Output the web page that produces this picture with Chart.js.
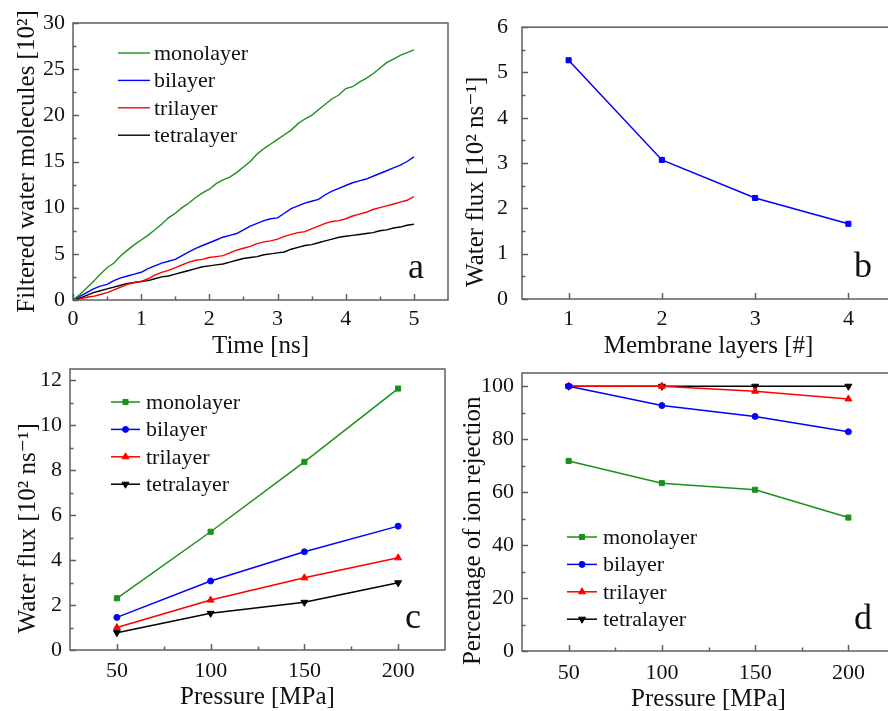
<!DOCTYPE html>
<html>
<head>
<meta charset="utf-8">
<script src="https://cdn.jsdelivr.net/npm/chart.js@4.4.1/dist/chart.umd.min.js"></script>
<style>
  html, body { margin: 0; padding: 0; background: #fff; width: 888px; height: 711px; overflow: hidden; }
  canvas { position: absolute; }
</style>
</head>
<body>
<canvas id="chartA" width="450" height="366" style="left:0;top:0"></canvas>
<canvas id="chartB" width="460" height="366" style="left:440px;top:0"></canvas>
<canvas id="chartC" width="450" height="380" style="left:0;top:345px"></canvas>
<canvas id="chartD" width="460" height="380" style="left:440px;top:345px"></canvas>
<script>
  // ---- data ----
  const seriesNames = ["monolayer", "bilayer", "trilayer", "tetralayer"];

  // panel a: cumulative filtered water molecules [10^2] vs time [ns]
  const timeNs = [0, 0.1, 0.2, 0.3, 0.4, 0.5, 0.6, 0.7, 0.8, 0.9, 1.0, 1.1, 1.2, 1.3, 1.4, 1.5, 1.6, 1.7, 1.8, 1.9,
    2.0, 2.1, 2.2, 2.3, 2.4, 2.5, 2.6, 2.7, 2.8, 2.9, 3.0, 3.1, 3.2, 3.3, 3.4, 3.5, 3.6, 3.7, 3.8, 3.9,
    4.0, 4.1, 4.2, 4.3, 4.4, 4.5, 4.6, 4.7, 4.8, 4.9, 5.0];
  const filteredMono = [0, 0.6, 1.3, 2.0, 2.8, 3.5, 4.0, 4.8, 5.4, 6.0, 6.5, 7.0, 7.6, 8.2, 8.9, 9.4, 10.0, 10.5, 11.1, 11.6,
    12.0, 12.6, 13.0, 13.3, 13.8, 14.4, 15.0, 15.8, 16.4, 16.9, 17.4, 17.9, 18.4, 19.1, 19.6, 20.0, 20.6, 21.2, 21.8, 22.2,
    22.9, 23.1, 23.6, 24.0, 24.5, 25.1, 25.7, 26.1, 26.5, 26.8, 27.1];
  const filteredBi = [0, 0.4, 0.8, 1.2, 1.5, 1.7, 2.1, 2.4, 2.6, 2.8, 3.0, 3.4, 3.7, 4.0, 4.2, 4.4, 4.8, 5.2, 5.6, 5.9,
    6.2, 6.5, 6.8, 7.0, 7.2, 7.6, 8.0, 8.3, 8.6, 8.8, 8.9, 9.4, 9.9, 10.2, 10.5, 10.7, 10.9, 11.4, 11.8, 12.1,
    12.4, 12.7, 12.9, 13.1, 13.4, 13.7, 14.0, 14.3, 14.6, 15.0, 15.5];
  const filteredTri = [0, 0.1, 0.3, 0.4, 0.6, 0.8, 1.1, 1.4, 1.7, 1.9, 2.0, 2.3, 2.7, 3.0, 3.2, 3.5, 3.8, 4.1, 4.3, 4.4,
    4.6, 4.7, 4.8, 5.1, 5.4, 5.6, 5.8, 6.1, 6.3, 6.4, 6.6, 6.9, 7.1, 7.3, 7.4, 7.7, 8.0, 8.3, 8.5, 8.6,
    8.8, 9.1, 9.3, 9.5, 9.8, 10.0, 10.2, 10.4, 10.6, 10.8, 11.2];
  const filteredTetra = [0, 0.2, 0.5, 0.8, 1.0, 1.2, 1.4, 1.6, 1.8, 1.9, 2.0, 2.1, 2.3, 2.5, 2.6, 2.8, 3.0, 3.2, 3.4, 3.6,
    3.7, 3.8, 3.9, 4.1, 4.3, 4.5, 4.6, 4.7, 4.9, 5.0, 5.1, 5.2, 5.5, 5.7, 5.9, 6.0, 6.2, 6.4, 6.6, 6.8,
    6.9, 7.0, 7.1, 7.2, 7.3, 7.5, 7.6, 7.8, 7.9, 8.1, 8.2];

  // panel b: water flux vs number of layers
  const layers = [1, 2, 3, 4];
  const fluxByLayers = [5.27, 3.07, 2.23, 1.66];

  // panel c: water flux vs pressure
  const pressure = [50, 100, 150, 200];
  const fluxMono = [2.3, 5.26, 8.37, 11.63];
  const fluxBi = [1.45, 3.07, 4.37, 5.51];
  const fluxTri = [1.0, 2.22, 3.21, 4.1];
  const fluxTetra = [0.77, 1.63, 2.12, 2.99];

  // panel d: ion rejection [%] vs pressure
  const rejMono = [71.8, 63.4, 60.9, 50.4];
  const rejBi = [100, 92.7, 88.6, 82.8];
  const rejTri = [100, 100, 98.1, 95.2];
  const rejTetra = [100, 100, 100, 100];

  // tick labels
  const timeTicks = [0, 1, 2, 3, 4, 5];
  const moleculeTicks = [0, 5, 10, 15, 20, 25, 30];
  const layerTicks = [1, 2, 3, 4];
  const fluxLayerTicks = [0, 1, 2, 3, 4, 5, 6];
  const pressureTicks = [50, 100, 150, 200];
  const fluxTicks = [0, 2, 4, 6, 8, 10, 12];
  const rejectionTicks = [0, 20, 40, 60, 80, 100];

  // ---- styling ----
  const SERIF = "'Liberation Serif', 'DejaVu Serif', serif";
  const colors = ["#1a911a", "#0000ff", "#ff0000", "#000000"];
  const markers = [
    { pointStyle: "rect", radius: 3.6, rotation: 0 },
    { pointStyle: "circle", radius: 3, rotation: 0 },
    { pointStyle: "triangle", radius: 4, rotation: 0 },
    { pointStyle: "triangle", radius: 4, rotation: 180 },
  ];
  const AXIS = "#5f5f5f";
  // trailing spaces push the rotated titles a little lower, as in the figure
  const PAD = "      ";

  Chart.defaults.font.family = SERIF;
  Chart.defaults.color = "#111";

  // box, inward ticks, in-plot legend and panel letter
  const frame = {
    id: "frame",
    afterDraw(chart, args, opts) {
      const { ctx, chartArea: a } = chart;
      ctx.save();
      ctx.strokeStyle = AXIS;
      ctx.lineWidth = 1.5;
      ctx.strokeRect(a.left, a.top, a.right - a.left, a.bottom - a.top);

      ["x", "y"].forEach((id) => {
        const s = chart.scales[id];
        const major = s.ticks.map((t) => t.value);
        const minorStep = opts.minor && opts.minor[id];
        const marks = major.map((v) => [v, 6]);
        if (minorStep) {
          for (let v = Math.ceil(s.min / minorStep) * minorStep; v < s.max; v += minorStep) {
            const r = Math.round(v * 1000) / 1000;
            if (r <= s.min || major.includes(r)) continue;
            marks.push([r, 3.5]);
          }
        }
        ctx.beginPath();
        marks.forEach(([v, len]) => {
          const p = Math.round(s.getPixelForValue(v)) + 0.5;
          if (id === "x") {
            ctx.moveTo(p, a.bottom);
            ctx.lineTo(p, a.bottom - len);
          } else {
            ctx.moveTo(a.left, p);
            ctx.lineTo(a.left + len, p);
          }
        });
        ctx.stroke();
      });

      if (opts.legend) {
        const L = opts.legend;
        ctx.font = `22px ${SERIF}`;
        ctx.textBaseline = "middle";
        ctx.textAlign = "left";
        chart.data.datasets.forEach((ds, i) => {
          const y = L.y + i * L.dy;
          ctx.strokeStyle = ds.borderColor;
          ctx.lineWidth = ds.borderWidth;
          ctx.beginPath();
          ctx.moveTo(L.x, y);
          ctx.lineTo(L.x + L.len, y);
          ctx.stroke();
          if (ds.pointRadius > 0) {
            ctx.fillStyle = ds.borderColor;
            ctx.lineWidth = 1;
            Chart.helpers.drawPoint(ctx, {
              pointStyle: ds.pointStyle,
              radius: ds.pointRadius,
              rotation: ds.pointRotation || 0,
              borderWidth: 1,
            }, L.x + L.len / 2, y);
          }
          ctx.fillStyle = "#111";
          ctx.fillText(ds.label, L.x + L.len + L.gap, y + 1);
        });
      }

      if (opts.letter) {
        ctx.fillStyle = "#111";
        ctx.font = `36px ${SERIF}`;
        ctx.textAlign = "center";
        ctx.textBaseline = "alphabetic";
        ctx.fillText(opts.letter, a.right - 32, a.bottom - 22);
      }
      ctx.restore();
    },
  };

  function axis(opts) {
    return {
      type: "linear",
      min: opts.min,
      max: opts.max,
      grid: { display: false, drawTicks: false },
      border: { display: false },
      afterBuildTicks: (s) => { s.ticks = opts.ticks.map((v) => ({ value: v })); },
      afterFit: (s) => {
        if (opts.size) {
          if (s.isHorizontal()) s.height = opts.size;
          else s.width = opts.size;
        }
      },
      ticks: { font: { size: 22 }, color: "#111", padding: opts.tickPad },
      title: {
        display: true,
        text: opts.title,
        font: { size: 25 },
        color: "#111",
        padding: opts.titlePad,
      },
    };
  }

  function pointSeries(xs, ys, i, lineWidth) {
    return {
      label: seriesNames[i],
      data: xs.map((x, k) => ({ x, y: ys[k] })),
      borderColor: colors[i],
      backgroundColor: colors[i],
      borderWidth: lineWidth,
      pointStyle: markers[i].pointStyle,
      pointRadius: markers[i].radius,
      pointRotation: markers[i].rotation,
      pointBorderWidth: 1,
      tension: 0,
    };
  }

  function makeChart(id, datasets, scales, padding, frameOpts) {
    return new Chart(document.getElementById(id), {
      type: "line",
      data: { datasets },
      options: {
        responsive: false,
        animation: false,
        events: [],
        layout: { padding },
        plugins: { legend: { display: false }, tooltip: { enabled: false }, frame: frameOpts },
        scales,
      },
      plugins: [frame],
    });
  }

  // panel a
  makeChart(
    "chartA",
    [filteredMono, filteredBi, filteredTri, filteredTetra].map((ys, i) => ({
      label: seriesNames[i],
      data: timeNs.map((t, k) => ({ x: t, y: ys[k] })),
      borderColor: colors[i],
      borderWidth: 1.4,
      pointRadius: 0,
      tension: 0,
    })),
    {
      x: axis({ min: 0, max: 5.5, ticks: timeTicks, size: 66, tickPad: 6, title: "Time [ns]", titlePad: { bottom: 5 } }),
      y: axis({ min: 0, max: 30, ticks: moleculeTicks, size: 73, tickPad: 8, title: "Filtered water molecules [10²]", titlePad: { top: 12 } }),
    },
    { top: 23, right: 2, left: 0, bottom: 0 },
    { minor: { x: 0.5, y: 2.5 }, legend: { x: 118, y: 53, dy: 27.4, len: 32, gap: 4 }, letter: "a" },
  );

  // panel b
  makeChart(
    "chartB",
    [{ ...pointSeries(layers, fluxByLayers, 0, 1.5), borderColor: colors[1], backgroundColor: colors[1], label: "flux" }],
    {
      x: axis({ min: 0.5, max: 4.5, ticks: layerTicks, size: 67, tickPad: 7, title: "Membrane layers [#]", titlePad: { bottom: 5 } }),
      y: axis({ min: 0, max: 6, ticks: fluxLayerTicks, size: 82, tickPad: 14, title: "Water flux [10² ns⁻¹]" + PAD, titlePad: { top: 21 } }),
    },
    { top: 23, right: 2, left: 0, bottom: 0 },
    { minor: { y: 0.5 }, letter: "b" },
  );

  // panel c
  makeChart(
    "chartC",
    [fluxMono, fluxBi, fluxTri, fluxTetra].map((ys, i) => pointSeries(pressure, ys, i, 1.5)),
    {
      x: axis({ min: 25, max: 225, ticks: pressureTicks, size: 75, tickPad: 8, title: "Pressure [MPa]", titlePad: { bottom: 13 } }),
      y: axis({ min: 0, max: 12.5, ticks: fluxTicks, size: 70, tickPad: 8, title: "Water flux [10² ns⁻¹]" + PAD, titlePad: { top: 13 } }),
    },
    { top: 24, right: 2, left: 0, bottom: 0 },
    { minor: { x: 25, y: 1 }, legend: { x: 111, y: 57, dy: 27.4, len: 29, gap: 6 }, letter: "c" },
  );

  // panel d
  makeChart(
    "chartD",
    [rejMono, rejBi, rejTri, rejTetra].map((ys, i) => pointSeries(pressure, ys, i, 1.5)),
    {
      x: axis({ min: 25, max: 225, ticks: pressureTicks, size: 74, tickPad: 9, title: "Pressure [MPa]", titlePad: { bottom: 11 } }),
      y: axis({ min: 0, max: 105, ticks: rejectionTicks, size: 82, tickPad: 8, title: "Percentage of ion rejection" + PAD, titlePad: { top: 18 } }),
    },
    { top: 28, right: 3, left: 0, bottom: 0 },
    { minor: { x: 25, y: 10 }, legend: { x: 127, y: 192, dy: 27.4, len: 30, gap: 6 }, letter: "d" },
  );
</script>
</body>
</html>
